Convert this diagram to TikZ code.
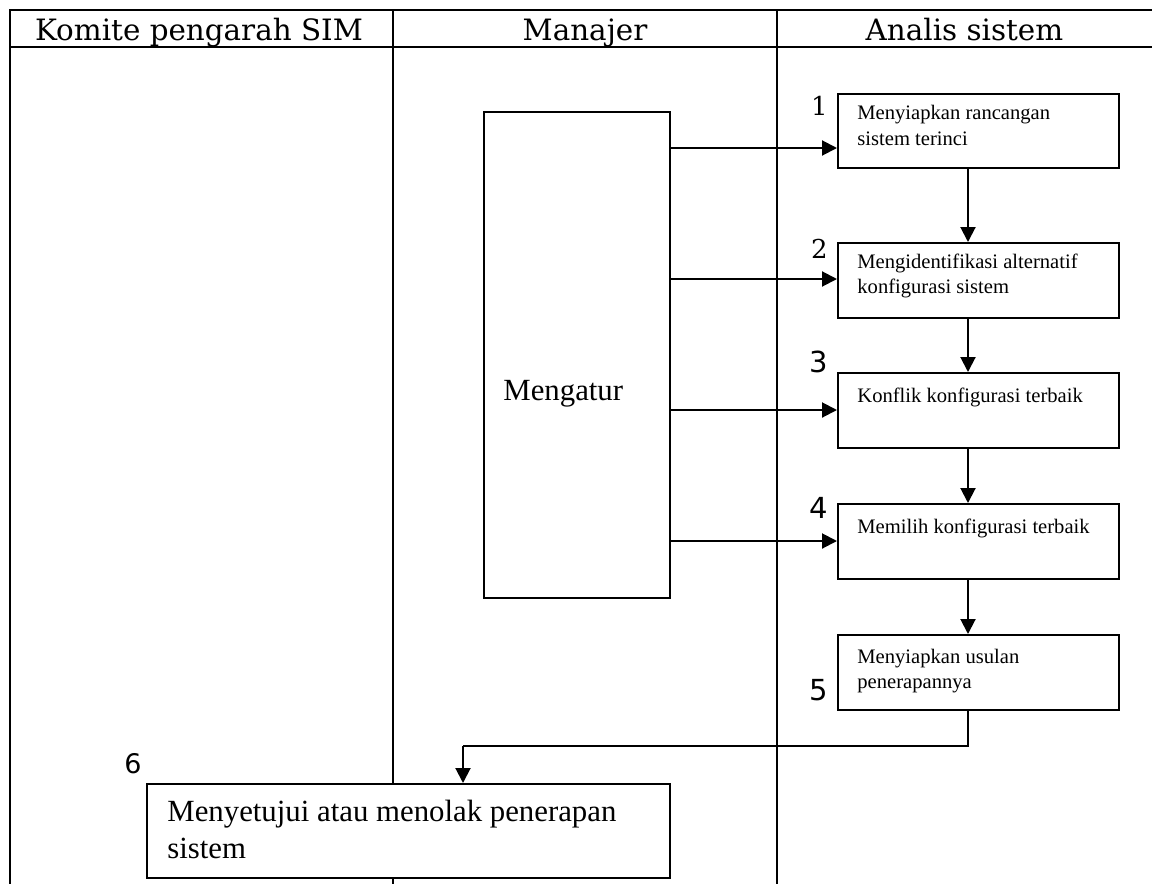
\documentclass[tikz,border=0pt]{standalone}
\usepackage{fontspec}
\setmainfont{Liberation Serif}
\newfontfamily\hdrfont{DejaVu Serif}
\newfontfamily\numsans{DejaVu Sans}
\usetikzlibrary{arrows.meta,calc}
\tikzset{
  lane/.style={line width=1.3pt},
  procbox/.style={draw, line width=1pt, fill=white, inner sep=0pt, anchor=north west},
  smalltxt/.style={anchor=base west, inner sep=0pt, font=\fontsize{10.3pt}{12pt}\selectfont},
  bigtxt/.style={anchor=base west, inner sep=0pt, font=\fontsize{15.4pt}{18pt}\selectfont},
  hdr/.style={anchor=base, inner sep=0pt, font=\hdrfont\fontsize{14.7pt}{17pt}\selectfont},
  numser/.style={anchor=base east, inner sep=0pt, font=\hdrfont\fontsize{13pt}{15pt}\selectfont},
  numsan/.style={anchor=base east, inner sep=0pt, font=\numsans\fontsize{14.5pt}{17pt}\selectfont},
  arr/.style={line width=1pt, -{Triangle[length=7.5pt,width=7.5pt]}},
  conn/.style={line width=1pt}
}
\begin{document}
\begin{tikzpicture}[x=0.5pt,y=-0.5pt]
\useasboundingbox (0,0) rectangle (1152,884);
% swimlane table
\draw[lane] (1152,10) -- (10,10) -- (10,884);
\draw[lane] (10,47) -- (1152,47);
\draw[lane] (393,10) -- (393,884);
\draw[lane] (777,10) -- (777,884);
\node[hdr] (h1) at (199,40) {Komite pengarah SIM};
\node[hdr] (h2) at (585,40) {Manajer};
\node[hdr] (h3) at (964.5,40) {Analis sistem};
% boxes
\node[procbox, minimum width=93pt, minimum height=243pt] (m) at (483,111) {};
\node[bigtxt] (mt) at (503,400) {Mengatur};
\node[procbox, minimum width=140.5pt, minimum height=37pt] (b1) at (837,93) {};
\node[procbox, minimum width=140.5pt, minimum height=37.5pt] (b2) at (837,242) {};
\node[procbox, minimum width=140.5pt, minimum height=37.5pt] (b3) at (837,372) {};
\node[procbox, minimum width=140.5pt, minimum height=37.5pt] (b4) at (837,503) {};
\node[procbox, minimum width=140.5pt, minimum height=37.5pt] (b5) at (837,634) {};
\node[procbox, minimum width=261.5pt, minimum height=47pt] (b6) at (146,783) {};
% box texts
\node[smalltxt] (t1a) at (857,119) {Menyiapkan rancangan};
\node[smalltxt] (t1b) at (857,145) {sistem terinci};
\node[smalltxt] (t2a) at (857,268) {Mengidentifikasi alternatif};
\node[smalltxt] (t2b) at (857,293) {konfigurasi sistem};
\node[smalltxt] (t3a) at (857,402) {Konflik konfigurasi terbaik};
\node[smalltxt] (t4a) at (857,533) {Memilih konfigurasi terbaik};
\node[smalltxt] (t5a) at (857,663) {Menyiapkan usulan};
\node[smalltxt] (t5b) at (857,688) {penerapannya};
\node[bigtxt] (t6a) at (167,821) {Menyetujui atau menolak penerapan};
\node[bigtxt] (t6b) at (167,858) {sistem};
% numbers
\node[numser] (n1) at (828,115) {1};
\node[numser] (n2) at (828,258) {2};
\node[numsan] (n3) at (828,372) {3};
\node[numsan] (n4) at (828,518) {4};
\node[numsan] (n5) at (828,700) {5};
\node[numsan, anchor=base west, font=\numsans\fontsize{13.5pt}{16pt}\selectfont] (n6) at (124,773) {6};
% arrows from Mengatur
\coordinate (a1) at (837,148);
\coordinate (a2) at (837,279);
\coordinate (a3) at (837,410);
\coordinate (a4) at (837,541);
\draw[arr] (m.east |- a1) -- (a1);
\draw[arr] (m.east |- a2) -- (a2);
\draw[arr] (m.east |- a3) -- (a3);
\draw[arr] (m.east |- a4) -- (a4);
% vertical flow
\coordinate (vx) at (968,0);
\draw[arr] (vx |- b1.south) -- (vx |- b2.north);
\draw[arr] (vx |- b2.south) -- (vx |- b3.north);
\draw[arr] (vx |- b3.south) -- (vx |- b4.north);
\draw[arr] (vx |- b4.south) -- (vx |- b5.north);
% 5 -> 6
\coordinate (k1) at (968,746);
\coordinate (k2) at (463,746);
\draw[conn] (vx |- b5.south) -- (k1) -- (k2);
\draw[arr] (k2) -- (k2 |- b6.north);
\end{tikzpicture}
\end{document}
